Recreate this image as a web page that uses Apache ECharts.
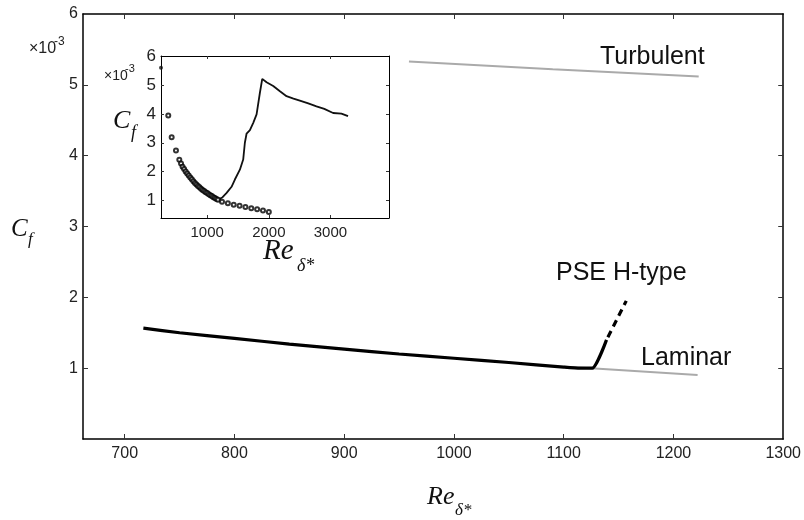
<!DOCTYPE html>
<html><head><meta charset="utf-8">
<script src="https://cdn.jsdelivr.net/npm/echarts@6/dist/echarts.min.js"></script>
<style>html,body{margin:0;padding:0;background:#fff}#c{width:804px;height:520px}</style>
</head><body><div id="c"></div>
<script>
// ---- main plot data ----
const mainXTicks = [700, 800, 900, 1000, 1100, 1200, 1300];
const mainYTicks = [1, 2, 3, 4, 5, 6];
const laminarRe = [1100, 1125, 1222];
const laminarCf = [1.02, 1.0, 0.905];
const turbulentRe = [959, 1090, 1223];
const turbulentCf = [5.33, 5.22, 5.116];
const pseRe = [717, 750, 800, 850, 900, 950, 1000, 1050, 1100, 1115, 1126, 1139];
const pseCf = [1.566, 1.50, 1.42, 1.34, 1.27, 1.20, 1.14, 1.08, 1.015, 1.0, 1.0, 1.40];
const pseDashRe = [1139, 1157];
const pseDashCf = [1.40, 1.95];
// ---- inset data ----
const insetXTicks = [1000, 2000, 3000];
const insetYTicks = [1, 2, 3, 4, 5, 6];
const dnsRe = [1179, 1250, 1315, 1395, 1449, 1530, 1584, 1611, 1639, 1693, 1747, 1801, 1855, 1893, 1963, 2071, 2180, 2287, 2400, 2503, 2640, 2773, 2900, 3043, 3178, 3285];
const dnsCf = [1.03, 1.12, 1.27, 1.48, 1.73, 2.07, 2.42, 3.0, 3.32, 3.44, 3.69, 3.98, 4.73, 5.21, 5.09, 4.96, 4.78, 4.61, 4.53, 4.46, 4.36, 4.26, 4.17, 4.03, 4.01, 3.92];
const circRe = [368, 423, 493, 547, 575, 600, 625, 650, 675, 700, 725, 750, 775, 800, 825, 850, 875, 900, 925, 950, 975, 1000, 1025, 1050, 1075, 1100, 1125, 1150, 1175, 1240, 1335, 1430, 1525, 1620, 1715, 1810, 1905, 2000];
const circCf = [3.94, 3.19, 2.73, 2.41, 2.28, 2.17, 2.09, 2.01, 1.94, 1.87, 1.80, 1.74, 1.67, 1.61, 1.56, 1.51, 1.46, 1.41, 1.37, 1.33, 1.29, 1.26, 1.22, 1.19, 1.16, 1.12, 1.09, 1.06, 1.03, 0.96, 0.91, 0.86, 0.82, 0.78, 0.74, 0.70, 0.66, 0.61];
const dotRe = [250];
const dotCf = [5.59];

const zip = (a, b) => a.map((v, i) => [v, b[i]]);
const SANS = '"Liberation Sans", Arial, sans-serif';
const SERIF = '"Liberation Serif", "Times New Roman", serif';
const plain = v => String(v);

function axisBase(extra) {
  return Object.assign({
    type: 'value',
    axisLine: { show: true, onZero: false, lineStyle: { color: '#000', width: 1.5 } },
    splitLine: { show: false },
    axisTick: { show: true, inside: true, length: 5, lineStyle: { color: '#333', width: 1 } },
    axisLabel: { show: false }
  }, extra);
}

const chart = echarts.init(document.getElementById('c'), null, { renderer: 'canvas' });
chart.setOption({
  backgroundColor: '#fff',
  animation: false,
  grid: [
    { left: 83, top: 14, width: 704, height: 425, show: false },
    { left: 161, top: 56, width: 228, height: 162, show: true, backgroundColor: '#fff', borderWidth: 0 }
  ],
  xAxis: [
    axisBase({ gridIndex: 0, position: 'bottom', min: 662, max: 1300,
      axisTick: { show: true, inside: true, length: 5, customValues: mainXTicks.slice(0, -1), lineStyle: { color: '#333' } },
      axisLabel: { show: true, customValues: mainXTicks, formatter: plain, margin: 7, fontSize: 16, color: '#222', fontFamily: SANS } }),
    axisBase({ gridIndex: 0, position: 'top', min: 662, max: 1300,
      axisTick: { show: true, inside: true, length: 5, customValues: mainXTicks.slice(0, -1), lineStyle: { color: '#333' } } }),
    axisBase({ gridIndex: 1, position: 'bottom', min: 250, max: 3950,
      axisLine: { show: true, onZero: false, lineStyle: { color: '#000', width: 1 } },
      axisTick: { show: true, inside: true, length: 3, customValues: insetXTicks, lineStyle: { color: '#333' } },
      axisLabel: { show: true, customValues: insetXTicks, formatter: plain, margin: 7, fontSize: 15, color: '#222', fontFamily: SANS } }),
    axisBase({ gridIndex: 1, position: 'top', min: 250, max: 3950,
      axisLine: { show: true, onZero: false, lineStyle: { color: '#000', width: 1 } },
      axisTick: { show: true, inside: true, length: 3, customValues: insetXTicks, lineStyle: { color: '#333' } } })
  ],
  yAxis: [
    axisBase({ gridIndex: 0, position: 'left', min: 0, max: 6,
      axisTick: { show: true, inside: true, length: 5, customValues: mainYTicks.slice(0, -1), lineStyle: { color: '#333' } },
      axisLabel: { show: true, customValues: mainYTicks, formatter: plain, margin: 5, fontSize: 16, color: '#222', fontFamily: SANS } }),
    axisBase({ gridIndex: 0, position: 'right', min: 0, max: 6,
      axisTick: { show: true, inside: true, length: 5, customValues: mainYTicks.slice(0, -1), lineStyle: { color: '#333' } } }),
    axisBase({ gridIndex: 1, position: 'left', min: 0.4, max: 6,
      axisLine: { show: true, onZero: false, lineStyle: { color: '#000', width: 1 } },
      axisTick: { show: true, inside: true, length: 3, customValues: insetYTicks.slice(0, -1), lineStyle: { color: '#333' } },
      axisLabel: { show: true, customValues: insetYTicks, formatter: plain, margin: 5, fontSize: 17, color: '#222', fontFamily: SANS } }),
    axisBase({ gridIndex: 1, position: 'right', min: 0.4, max: 6,
      axisLine: { show: true, onZero: false, lineStyle: { color: '#000', width: 1 } },
      axisTick: { show: true, inside: true, length: 3, customValues: insetYTicks.slice(0, -1), lineStyle: { color: '#333' } } })
  ],
  series: [
    { type: 'line', xAxisIndex: 0, yAxisIndex: 0, data: zip(laminarRe, laminarCf), symbol: 'none', lineStyle: { color: '#aaa', width: 2 }, z: 2 },
    { type: 'line', xAxisIndex: 0, yAxisIndex: 0, data: zip(turbulentRe, turbulentCf), symbol: 'none', lineStyle: { color: '#aaa', width: 2 }, z: 2 },
    { type: 'line', xAxisIndex: 0, yAxisIndex: 0, data: zip(pseRe, pseCf), symbol: 'none', smooth: 0.2, lineStyle: { color: '#000', width: 3.2 }, z: 3 },
    { type: 'line', xAxisIndex: 0, yAxisIndex: 0, data: zip(pseDashRe, pseDashCf), symbol: 'none', lineStyle: { color: '#000', width: 3.2, type: [7, 5], dashOffset: -3 }, z: 3 },
    { type: 'line', xAxisIndex: 2, yAxisIndex: 2, data: zip(dnsRe, dnsCf), symbol: 'none', lineStyle: { color: '#111', width: 1.8 }, z: 4 },
    { type: 'scatter', xAxisIndex: 2, yAxisIndex: 2, data: zip(circRe, circCf), symbol: 'emptyCircle', symbolSize: 4, itemStyle: { color: '#000', borderWidth: 1 }, z: 5 },
    { type: 'scatter', xAxisIndex: 2, yAxisIndex: 2, data: zip(dotRe, dotCf), symbol: 'circle', symbolSize: 4, itemStyle: { color: '#111' }, z: 5 }
  ],
  graphic: [
    // main axis titles
    { type: 'text', x: 11, y: 229, style: { text: 'C', font: 'italic 25px ' + SERIF, fill: '#111', textVerticalAlign: 'middle' } },
    { type: 'text', x: 28, y: 240, style: { text: 'f', font: 'italic 17px ' + SERIF, fill: '#111', textVerticalAlign: 'middle' } },
    { type: 'text', x: 29, y: 49, style: { text: '\u00d710', font: '16px ' + SANS, fill: '#222', textVerticalAlign: 'middle' } },
    { type: 'text', x: 54, y: 42, style: { text: '-3', font: '12px ' + SANS, fill: '#222', textVerticalAlign: 'middle' } },
    { type: 'text', x: 427, y: 497, style: { text: 'Re', font: 'italic 26px ' + SERIF, fill: '#111', textVerticalAlign: 'middle' } },
    { type: 'text', x: 455, y: 511, style: { text: '\u03b4*', font: 'italic 17px ' + SERIF, fill: '#111', textVerticalAlign: 'middle' } },
    // annotations
    { type: 'text', x: 600, y: 57, style: { text: 'Turbulent', font: '25px ' + SANS, fill: '#111', textVerticalAlign: 'middle' } },
    { type: 'text', x: 556, y: 273, style: { text: 'PSE H-type', font: '25px ' + SANS, fill: '#111', textVerticalAlign: 'middle' } },
    { type: 'text', x: 641, y: 358, style: { text: 'Laminar', font: '25px ' + SANS, fill: '#111', textVerticalAlign: 'middle' } },
    // inset axis titles
    { type: 'text', x: 113, y: 121, style: { text: 'C', font: 'italic 26px ' + SERIF, fill: '#111', textVerticalAlign: 'middle' } },
    { type: 'text', x: 131, y: 133, style: { text: 'f', font: 'italic 18px ' + SERIF, fill: '#111', textVerticalAlign: 'middle' } },
    { type: 'text', x: 104, y: 76, style: { text: '\u00d710', font: '14px ' + SANS, fill: '#222', textVerticalAlign: 'middle' } },
    { type: 'text', x: 125, y: 69, style: { text: '-3', font: '11px ' + SANS, fill: '#222', textVerticalAlign: 'middle' } },
    { type: 'text', x: 263, y: 251, style: { text: 'Re', font: 'italic 29px ' + SERIF, fill: '#111', textVerticalAlign: 'middle' } },
    { type: 'text', x: 297, y: 266, style: { text: '\u03b4*', font: 'italic 18px ' + SERIF, fill: '#111', textVerticalAlign: 'middle' } }
  ]
});
</script></body></html>
